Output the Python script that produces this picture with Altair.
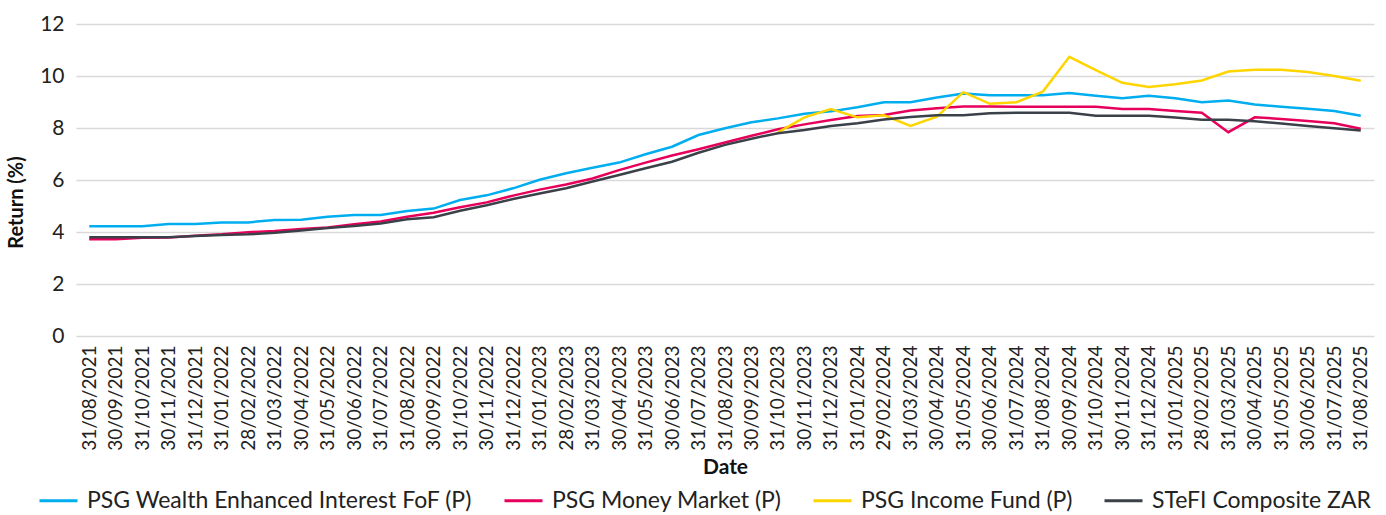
import altair as alt
import pandas as pd

dates = [
    "31/08/2021", "30/09/2021", "31/10/2021", "30/11/2021", "31/12/2021",
    "31/01/2022", "28/02/2022", "31/03/2022", "30/04/2022", "31/05/2022",
    "30/06/2022", "31/07/2022", "31/08/2022", "30/09/2022", "31/10/2022",
    "30/11/2022", "31/12/2022", "31/01/2023", "28/02/2023", "31/03/2023",
    "30/04/2023", "31/05/2023", "30/06/2023", "31/07/2023", "31/08/2023",
    "30/09/2023", "31/10/2023", "30/11/2023", "31/12/2023", "31/01/2024",
    "29/02/2024", "31/03/2024", "30/04/2024", "31/05/2024", "30/06/2024",
    "31/07/2024", "31/08/2024", "30/09/2024", "31/10/2024", "30/11/2024",
    "31/12/2024", "31/01/2025", "28/02/2025", "31/03/2025", "30/04/2025",
    "31/05/2025", "30/06/2025", "31/07/2025", "31/08/2025",
]

enhanced_interest = [
    4.22, 4.22, 4.22, 4.31, 4.31, 4.37, 4.37, 4.46, 4.47, 4.59,
    4.65, 4.65, 4.81, 4.90, 5.23, 5.41, 5.68, 6.01, 6.26, 6.47,
    6.67, 6.99, 7.28, 7.73, 7.99, 8.22, 8.37, 8.55, 8.64, 8.80,
    8.99, 8.99, 9.17, 9.33, 9.26, 9.26, 9.26, 9.35, 9.24, 9.14,
    9.24, 9.14, 8.99, 9.06, 8.90, 8.82, 8.74, 8.65, 8.47,
]

money_market = [
    3.72, 3.72, 3.78, 3.79, 3.86, 3.91, 3.99, 4.04, 4.12, 4.17,
    4.30, 4.40, 4.59, 4.74, 4.95, 5.14, 5.40, 5.63, 5.83, 6.06,
    6.38, 6.67, 6.94, 7.18, 7.44, 7.70, 7.95, 8.14, 8.31, 8.46,
    8.50, 8.67, 8.76, 8.83, 8.83, 8.82, 8.82, 8.82, 8.82, 8.73,
    8.73, 8.65, 8.59, 7.84, 8.41, 8.35, 8.27, 8.18, 7.97,
]

income_fund = [None] * 26 + [
    7.83, 8.41, 8.73, 8.41, 8.49, 8.08, 8.44, 9.38, 8.93, 8.99,
    9.40, 10.74, 10.23, 9.74, 9.58, 9.68, 9.83, 10.17, 10.24, 10.24,
    10.15, 10.00, 9.82,
]

stefi = [
    3.80, 3.80, 3.80, 3.80, 3.85, 3.88, 3.91, 3.97, 4.06, 4.15,
    4.23, 4.33, 4.49, 4.57, 4.82, 5.03, 5.27, 5.48, 5.68, 5.94,
    6.19, 6.45, 6.70, 7.05, 7.35, 7.59, 7.80, 7.92, 8.08, 8.18,
    8.33, 8.42, 8.49, 8.49, 8.57, 8.59, 8.59, 8.59, 8.47, 8.47,
    8.47, 8.40, 8.32, 8.32, 8.26, 8.17, 8.08, 7.99, 7.90,
]

series_names = [
    "PSG Wealth Enhanced Interest FoF (P)",
    "PSG Money Market (P)",
    "PSG Income Fund (P)",
    "STeFI Composite ZAR",
]
series_values = [enhanced_interest, money_market, income_fund, stefi]
colors = ["#00AEEF", "#E6005C", "#FFD500", "#3B4149"]

rows = []
for name, vals in zip(series_names, series_values):
    for d, v in zip(dates, vals):
        if v is not None:
            rows.append({"Date": d, "Return": v, "Series": name})
df = pd.DataFrame(rows)

FONT = "Lato"

chart = (
    alt.Chart(df)
    .mark_line(strokeWidth=2.5)
    .encode(
        x=alt.X(
            "Date:O",
            sort=dates,
            scale=alt.Scale(domain=dates, padding=0.5),
            axis=alt.Axis(
                title="Date",
                labelAngle=-90,
                labelFontSize=19,
                labelColor="#222222",
                titleFontSize=21,
                titleFontWeight="bold",
                titleColor="#111111",
                titlePadding=6,
                domain=False,
                ticks=False,
                labelPadding=9,
                grid=False,
            ),
        ),
        y=alt.Y(
            "Return:Q",
            scale=alt.Scale(domain=[0, 12]),
            axis=alt.Axis(
                title="Return (%)",
                values=[0, 2, 4, 6, 8, 10, 12],
                labelFontSize=21,
                labelColor="#222222",
                titleFontSize=20,
                titleFontWeight="bold",
                titleColor="#111111",
                titleY=178,
                titleX=-50,
                domain=False,
                ticks=False,
                labelPadding=12,
                gridColor="#D9D9D9",
                gridWidth=1.5,
            ),
        ),
        color=alt.Color(
            "Series:N",
            sort=series_names,
            scale=alt.Scale(domain=series_names, range=colors),
            legend=alt.Legend(
                title=None,
                orient="none",
                direction="horizontal",
                legendX=-38,
                legendY=456,
                symbolType="stroke",
                symbolStrokeWidth=3,
                symbolSize=1444,
                labelFontSize=23,
                labelColor="#222222",
                labelOffset=8,
                columnPadding=25,
                labelLimit=600,
            ),
        ),
    )
    .properties(
        width=1298,
        height=312,
        autosize=alt.AutoSizeParams(type="none"),
        padding={"left": 76, "top": 24, "right": 12, "bottom": 179},
    )
    .configure(font=FONT)
    .configure_view(stroke=None)
)

chart.save("out.html", embed_options={"renderer": "svg", "actions": False})
